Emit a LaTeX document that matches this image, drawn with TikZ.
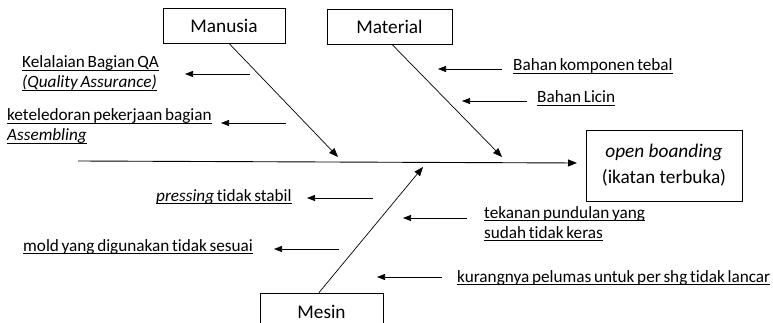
\documentclass[tikz,border=0pt]{standalone}
\usepackage{fontspec}
\setmainfont[Ligatures=NoCommon]{Carlito}
\usetikzlibrary{arrows.meta,calc}
% underlined label text, tight word spacing, rule at a fixed depth
\newcommand\ulbar[1]{\setbox0\hbox{\spaceskip=2.7pt plus 1pt\relax #1}\rlap{\rule[-2.6pt]{\wd0}{0.7pt}}\box0}
\tikzset{
  causebox/.style={draw, line width=0.8pt, inner sep=0pt, font=\fontsize{19.3}{26}\selectfont},
  lbl/.style={inner sep=0pt, anchor=base west, font=\fontsize{17.2}{20}\selectfont},
  arr/.style={line width=0.7pt, -{Triangle[length=8pt,width=6pt]}},
  bone/.style={line width=0.7pt, -{Triangle[length=9pt,width=7pt]}},
}
\begin{document}
\begin{tikzpicture}[x=1pt,y=-1pt]
\useasboundingbox (0,0) rectangle (773,323);

% category boxes and effect box
\node[causebox, minimum width=122pt, minimum height=35pt] (manusia) at (224,25.5) {Manusia};
\node[causebox, minimum width=125pt, minimum height=35pt] (material) at (389.5,26.5) {Material};
\node[causebox, minimum width=123pt, minimum height=38pt] (mesin) at (321.5,312) {Mesin};
\node[causebox, minimum width=156pt, minimum height=71pt, align=center] (effect) at (664,165.5)
  {\itshape open boanding\\(ikatan terbuka)};

% spine
\coordinate (tail) at (78,161);
\coordinate (head) at (577,163);
\draw[line width=0.9pt, -{Triangle[length=9pt,width=7pt]}] (tail) -- (head);

% main bones
\coordinate (manusiaTip) at (338,157);
\coordinate (materialTip) at (502,157);
\coordinate (mesinTip) at (423,167);
\draw[bone] ($(manusia.south)+(5,0)$) -- (manusiaTip);
\draw[bone] ($(material.south)+(2.5,0)$) -- (materialTip);
\draw[bone] ($(mesin.north)+(-2.5,0)$) -- (mesinTip);

% Manusia causes
\node[lbl] (qa) at (22,68) {\ulbar{Kelalaian Bagian QA}};
\node[lbl] (qa2) at (22,88) {\ulbar{\itshape(Quality Assurance)}};
\node[lbl] (asm) at (7,121) {\ulbar{keteledoran pekerjaan bagian}};
\node[lbl] (asm2) at (7,141) {\ulbar{\itshape Assembling}};
\coordinate (a1s) at (250,74); \coordinate (a1e) at (185,74);
\coordinate (a2s) at (286,123); \coordinate (a2e) at (221,123);
\draw[arr] (a1s) -- (a1e);
\draw[arr] (a2s) -- (a2e);

% Material causes
\node[lbl] (tebal) at (513,71) {\ulbar{Bahan komponen tebal}};
\node[lbl] (licin) at (537,103) {\ulbar{Bahan Licin}};
\coordinate (b1s) at (502,69); \coordinate (b1e) at (438,69);
\coordinate (b2s) at (527,101); \coordinate (b2e) at (462,101);
\draw[arr] (b1s) -- (b1e);
\draw[arr] (b2s) -- (b2e);

% Mesin causes
\node[lbl] (press) at (156,201) {\ulbar{\itshape pressing}\ulbar{ tidak stabil}};
\node[lbl] (mold) at (23,251) {\ulbar{mold yang digunakan tidak sesuai}};
\node[lbl] (tekan) at (484,218) {\ulbar{tekanan pundulan yang}};
\node[lbl] (tekan2) at (484,238) {\ulbar{sudah tidak keras}};
\node[lbl] (pelumas) at (457,282) {\ulbar{kurangnya pelumas untuk per shg tidak lancar}};
\coordinate (c1s) at (373,198); \coordinate (c1e) at (307,198);
\coordinate (c2s) at (339,249); \coordinate (c2e) at (274,249);
\coordinate (c3s) at (467,218); \coordinate (c3e) at (403,218);
\coordinate (c4s) at (442,277); \coordinate (c4e) at (377,277);
\draw[arr] (c1s) -- (c1e);
\draw[arr] (c2s) -- (c2e);
\draw[arr] (c3s) -- (c3e);
\draw[arr] (c4s) -- (c4e);
\end{tikzpicture}
\end{document}
